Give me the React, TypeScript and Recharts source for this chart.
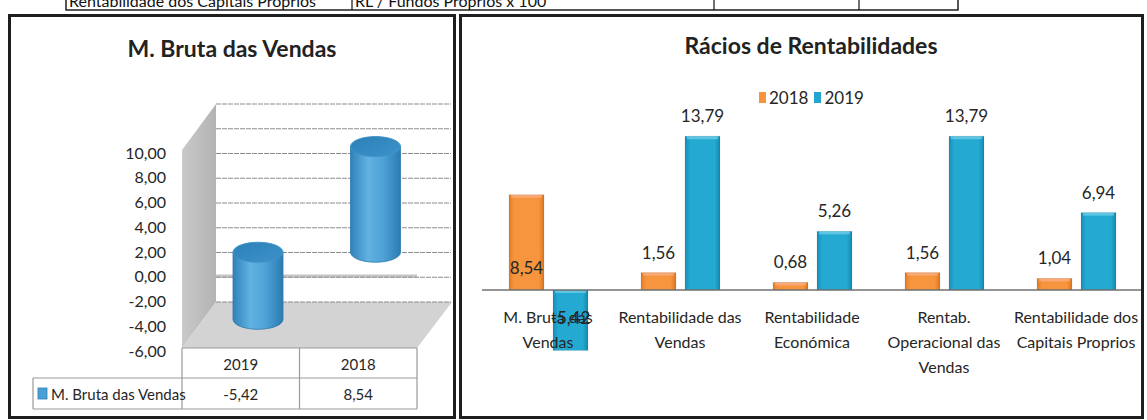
import React from "react";
import {
  Bar,
  BarChart,
  CartesianGrid,
  LabelList,
  Legend,
  ReferenceLine,
  XAxis,
  YAxis,
} from "recharts";

const FONT = "Lato, 'Open Sans', sans-serif";
const INK = "#262626";

// --- M. Bruta das Vendas (3D cylinders + data table) ---
const MB_TITLE = "M. Bruta das Vendas";
const MB_YEARS = ["2019", "2018"];
const MB_VALUES = [-5.42, 8.54];
const MB_TICKS = [-6, -4, -2, 0, 2, 4, 6, 8, 10];

// --- Rácios de Rentabilidades ---
const RR_TITLE = "Rácios de Rentabilidades";
const RR_CATEGORIES = [
  "M. Bruta das\nVendas",
  "Rentabilidade das\nVendas",
  "Rentabilidade\nEconómica",
  "Rentab.\nOperacional das\nVendas",
  "Rentabilidade dos\nCapitais Proprios",
];
const RR_SERIES = ["2018", "2019"];
const RR_2018 = [8.54, 1.56, 0.68, 1.56, 1.04];
const RR_2019 = [-5.42, 13.79, 5.26, 13.79, 6.94];

// header row of the document table, cut off by the scan
const DOC_ROW = ["Rentabilidade dos Capitais Proprios", "RL / Fundos Proprios x 100", "", ""];

const fmt = (v: number) => v.toFixed(2).replace(".", ",");

const mbData = MB_YEARS.map((year, i) => ({ year, value: MB_VALUES[i] }));
const rrData = RR_CATEGORIES.map((name, i) => ({ name, y2018: RR_2018[i], y2019: RR_2019[i] }));

// left chart geometry (front plane of the 3D box)
const MB_W = 456;
const MB_H = 420;
const MB_PLOT = { left: 182, right: 417, top: 153, bottom: 351 };
const DEPTH_X = 34; // back wall offset
const DEPTH_Y = 49;

function BackWallLine(p: any) {
  return (
    <line
      key={p.key}
      x1={p.x1 + DEPTH_X}
      x2={p.x2 + DEPTH_X}
      y1={p.y1 - DEPTH_Y}
      y2={p.y2 - DEPTH_Y}
      stroke="#8c8c8c"
      strokeWidth={1}
      strokeDasharray="5 1"
    />
  );
}

function Cylinder(p: any) {
  const { x, y, width, height } = p;
  const dx = DEPTH_X / 2;
  const dy = DEPTH_Y / 2;
  const top = Math.min(y, y + height) - dy;
  const bot = Math.max(y, y + height) - dy;
  const rx = width / 2;
  const ry = 10;
  const cx = x + rx + dx;
  return (
    <g>
      <path
        d={`M${cx - rx},${top} L${cx - rx},${bot} A${rx},${ry} 0 0 0 ${cx + rx},${bot} L${cx + rx},${top} Z`}
        fill="url(#cylBody)"
        stroke="#2b78ad"
        strokeWidth={0.8}
      />
      <ellipse cx={cx} cy={top} rx={rx} ry={ry} fill="url(#cylTop)" stroke="#3f93c8" strokeWidth={1} />
    </g>
  );
}

function MargemBruta() {
  const colW = (MB_PLOT.right - MB_PLOT.left) / MB_YEARS.length;
  const headTop = 348;
  const rowTop = 378;
  const rowBot = 409;
  const tableLeft = 33;
  return (
    <>
      {/* side wall and floor of the 3D box */}
      <svg width={MB_W} height={MB_H} style={{ position: "absolute", left: 0, top: 0 }}>
        <defs>
          <linearGradient id="sideWall" x1="0" y1="0" x2="1" y2="0">
            <stop offset="0" stopColor="#c9c9c9" />
            <stop offset="1" stopColor="#b3b3b3" />
          </linearGradient>
        </defs>
        <polygon
          points={`182,150 ${182 + DEPTH_X},${150 - 46} ${182 + DEPTH_X},302 182,348`}
          fill="url(#sideWall)"
        />
        <polygon points={`182,348 ${182 + DEPTH_X},302 452,302 417,348`} fill="#d3d3d3" />
        <line x1={182 + DEPTH_X} x2={417} y1={276} y2={276} stroke="#c4c4c4" strokeWidth={3} />
      </svg>

      <div style={{ position: "absolute", left: 0, top: 0 }}>
        <BarChart
          width={MB_W}
          height={MB_H}
          data={mbData}
          margin={{ top: MB_PLOT.top, bottom: MB_H - MB_PLOT.bottom, left: MB_PLOT.left - 60, right: MB_W - MB_PLOT.right }}
          barSize={50}
        >
          <defs>
            <linearGradient id="cylBody" x1="0" y1="0" x2="1" y2="0">
              <stop offset="0" stopColor="#2f82b9" />
              <stop offset="0.35" stopColor="#62b2e2" />
              <stop offset="0.65" stopColor="#4ea2d6" />
              <stop offset="1" stopColor="#2b7bb2" />
            </linearGradient>
            <linearGradient id="cylTop" x1="0" y1="0" x2="1" y2="1">
              <stop offset="0" stopColor="#2d80b8" />
              <stop offset="1" stopColor="#3b92c9" />
            </linearGradient>
          </defs>
          <CartesianGrid vertical={false} horizontal={BackWallLine} />
          <XAxis dataKey="year" hide />
          <YAxis
            domain={[-6, 10]}
            ticks={MB_TICKS}
            interval={0}
            width={60}
            tickFormatter={fmt}
            axisLine={false}
            tickLine={false}
            tickMargin={10}
            tick={{ fill: INK, fontSize: 16, fontFamily: FONT }}
          />
          <Bar dataKey="value" shape={Cylinder} isAnimationActive={false} />
        </BarChart>
      </div>

      {/* data table under the chart */}
      <svg width={MB_W} height={MB_H} style={{ position: "absolute", left: 0, top: 0 }}>
        <g stroke="#9a9a9a" strokeWidth={1.2} fill="none">
          <line x1={MB_PLOT.left} x2={MB_PLOT.right} y1={headTop} y2={headTop} />
          <line x1={tableLeft} x2={MB_PLOT.right} y1={rowTop} y2={rowTop} />
          <line x1={tableLeft} x2={MB_PLOT.right} y1={rowBot} y2={rowBot} />
          <line x1={tableLeft} x2={tableLeft} y1={rowTop} y2={rowBot} />
          {[0, 1, 2].map((k) => (
            <line key={k} x1={MB_PLOT.left + k * colW} x2={MB_PLOT.left + k * colW} y1={headTop} y2={rowBot} />
          ))}
        </g>
        <g fontFamily={FONT} fontSize={15} fill={INK} textAnchor="middle">
          {MB_YEARS.map((yr, i) => (
            <text key={yr} x={MB_PLOT.left + colW * (i + 0.5)} y={rowTop - 8}>
              {yr}
            </text>
          ))}
          {MB_VALUES.map((v, i) => (
            <text key={i} x={MB_PLOT.left + colW * (i + 0.5)} y={rowBot - 9}>
              {fmt(v)}
            </text>
          ))}
        </g>
        <rect x={38} y={388} width={9} height={11} fill="#4aa0d5" stroke="#2f7fb5" strokeWidth={0.8} />
        <text x={51} y={rowBot - 9} fontFamily={FONT} fontSize={15} fill={INK}>
          {MB_TITLE}
        </text>
      </svg>

      <div
        style={{
          position: "absolute",
          left: 0,
          width: 464,
          top: 34,
          textAlign: "center",
          fontFamily: FONT,
          fontWeight: 700,
          fontSize: 23,
          color: "#222",
        }}
      >
        {MB_TITLE}
      </div>
    </>
  );
}

// right chart geometry
const RR_LEFT = 459;
const RR_W = 1147 - RR_LEFT;
const RR_H = 420;
const RR_PLOT = { left: 482, right: 1142 };
const RR_DOMAIN: [number, number] = [-8, 16];
const RR_ZERO = 290; // y of the zero line
const RR_PX = 11.15; // px per unit
const RR_TOP = RR_ZERO - RR_DOMAIN[1] * RR_PX;
const RR_BOTTOM = RR_ZERO - RR_DOMAIN[0] * RR_PX;
const RR_COLORS = ["#f7943c", "#22a6cf"];

function BevelBar(p: any) {
  const { x, y, width, height, fill, hi } = p;
  const top = Math.min(y, y + height);
  const h = Math.abs(height);
  return (
    <g>
      <rect x={x} y={top} width={width} height={h} fill={fill} />
      <rect x={x + 2} y={top} width={width - 4} height={Math.min(3, h)} fill={hi} opacity={0.55} />
      <rect x={x} y={top} width={width} height={h} fill="none" stroke="rgba(0,0,0,0.08)" />
    </g>
  );
}

function CategoryTick({ x, y, payload }: any) {
  const lines = String(payload.value).split("\n");
  // Excel puts the category labels right under the zero line
  const base = y - (RR_BOTTOM - RR_ZERO) + 33;
  return (
    <text x={x} y={base} textAnchor="middle" fontFamily={FONT} fontSize={16} fill={INK}>
      {lines.map((l, i) => (
        <tspan key={i} x={x} dy={i === 0 ? 0 : 25}>
          {l}
        </tspan>
      ))}
    </text>
  );
}

function valueLabel(props: any) {
  const { x, y, width, height, value, index } = props;
  const top = Math.min(y, y + height);
  const bot = Math.max(y, y + height);
  const cx = x + width / 2;
  let cy = top - 20;
  if (value < 0) cy = top + 28;
  else if (index === 0) cy = bot - 22;
  return (
    <text x={cx} y={cy + 6} textAnchor="middle" fontFamily={FONT} fontSize={17} fill={INK}>
      {fmt(value)}
    </text>
  );
}

function RRLegend() {
  return (
    <div style={{ display: "flex", alignItems: "center", fontFamily: FONT, fontSize: 17, color: INK }}>
      {RR_SERIES.map((s, i) => (
        <span key={s} style={{ display: "flex", alignItems: "center", marginRight: 6 }}>
          <span
            style={{
              display: "inline-block",
              width: 7,
              height: 11,
              background: RR_COLORS[i],
              marginRight: 3,
            }}
          />
          {s}
        </span>
      ))}
    </div>
  );
}

function Racios() {
  return (
    <>
      <div style={{ position: "absolute", left: RR_LEFT, top: 0 }}>
        <BarChart
          width={RR_W}
          height={RR_H}
          data={rrData}
          margin={{
            top: RR_TOP,
            bottom: RR_H - RR_BOTTOM - 10,
            left: RR_PLOT.left - RR_LEFT,
            right: 1147 - RR_PLOT.right,
          }}
          barSize={35}
          barGap={9}
        >
          <defs>
            <linearGradient id="gOrange" x1="0" y1="0" x2="1" y2="0">
              <stop offset="0" stopColor="#e27c22" />
              <stop offset="0.15" stopColor="#f7953e" />
              <stop offset="0.85" stopColor="#f7953e" />
              <stop offset="1" stopColor="#dc761e" />
            </linearGradient>
            <linearGradient id="gBlue" x1="0" y1="0" x2="1" y2="0">
              <stop offset="0" stopColor="#168fb8" />
              <stop offset="0.15" stopColor="#24a9d2" />
              <stop offset="0.85" stopColor="#24a9d2" />
              <stop offset="1" stopColor="#1488b0" />
            </linearGradient>
          </defs>
          <XAxis
            dataKey="name"
            height={10}
            interval={0}
            axisLine={false}
            tickLine={false}
            tickSize={0}
            tickMargin={0}
            tick={CategoryTick}
          />
          <YAxis hide domain={RR_DOMAIN} allowDataOverflow />
          <Legend
            verticalAlign="middle"
            layout="horizontal"
            wrapperStyle={{ left: 759 - RR_LEFT, top: 87, width: 120 }}
            content={RRLegend}
          />
          <Bar
            dataKey="y2018"
            name={RR_SERIES[0]}
            fill="url(#gOrange)"
            shape={(p: any) => <BevelBar {...p} hi="#fbb9a2" />}
            isAnimationActive={false}
          >
            <LabelList dataKey="y2018" content={valueLabel} />
          </Bar>
          <Bar
            dataKey="y2019"
            name={RR_SERIES[1]}
            fill="url(#gBlue)"
            shape={(p: any) => <BevelBar {...p} hi="#8edcf0" />}
            isAnimationActive={false}
          >
            <LabelList dataKey="y2019" content={valueLabel} />
          </Bar>
          <ReferenceLine y={0} stroke="#707070" strokeWidth={1.3} />
        </BarChart>
      </div>
      <div
        style={{
          position: "absolute",
          left: 811 - 200,
          width: 400,
          top: 31,
          textAlign: "center",
          fontFamily: FONT,
          fontWeight: 700,
          fontSize: 23,
          color: "#222",
        }}
      >
        {RR_TITLE}
      </div>
    </>
  );
}

function DocRow() {
  const edges = [66, 352, 714, 859, 958];
  return (
    <svg width={1147} height={14} style={{ position: "absolute", left: 0, top: 0 }}>
      <rect x={66} y={-6} width={892} height={16} fill="none" stroke="#111" strokeWidth={1.4} />
      {edges.slice(1, -1).map((e) => (
        <line key={e} x1={e} x2={e} y1={0} y2={10} stroke="#111" strokeWidth={1.2} />
      ))}
      {DOC_ROW.map((t, i) => (
        <text key={i} x={edges[i] + 3} y={7} fontFamily={FONT} fontSize={16} fill="#111">
          {t}
        </text>
      ))}
    </svg>
  );
}

const panel: React.CSSProperties = {
  position: "absolute",
  top: 14,
  height: 405,
  border: "3px solid #1e1e1e",
  boxSizing: "border-box",
  pointerEvents: "none",
};

export default function App() {
  return (
    <div
      style={{
        position: "absolute",
        left: 0,
        top: 0,
        width: 1147,
        height: 420,
        overflow: "hidden",
        background: "#fff",
      }}
    >
      <DocRow />
      <MargemBruta />
      <Racios />
      <div style={{ ...panel, left: 8, width: 448 }} />
      <div style={{ ...panel, left: 459, width: 685 }} />
    </div>
  );
}
